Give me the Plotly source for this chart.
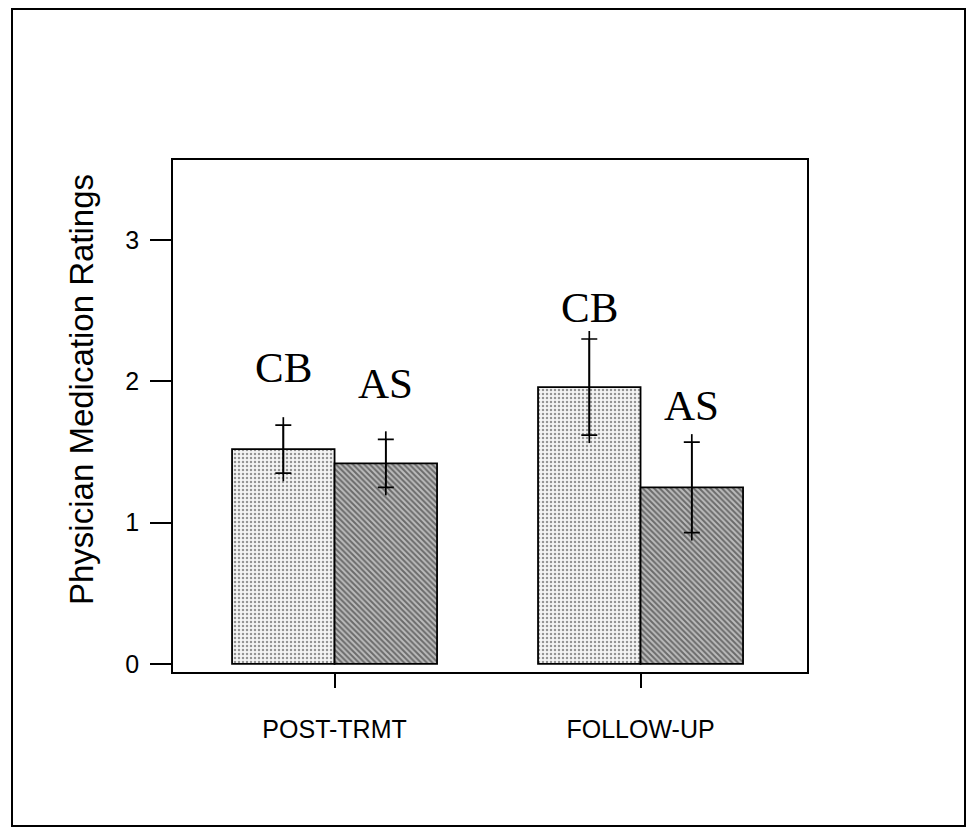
import plotly.graph_objects as go

# Physician medication ratings by phase and treatment group (mean +/- SE)
phases = ["POST-TRMT", "FOLLOW-UP"]
groups = ["CB", "AS"]
cb_mean = [1.52, 1.96]
cb_err = [0.17, 0.34]
as_mean = [1.42, 1.25]
as_err = [0.17, 0.32]
y_ticks = [0, 1, 2, 3]

# figure geometry (px)
W, H = 972, 835
ML, MR, MT, MB = 173, 165, 160, 163
Y_RANGE = [-0.057, 3.567]
X_RANGE = [-0.528, 1.544]
BARGAP = 0.33
px_per_unit = (H - MT - MB) / (Y_RANGE[1] - Y_RANGE[0])
arm_px = 8                      # how far the error line runs past each crossbar
ext = arm_px / px_per_unit

styles = {
    "CB": dict(shape=".", fgcolor="#333333", bgcolor="#f4f4f4", size=4, solidity=0.3),
    "AS": dict(shape="\\", fgcolor="#1a1a1a", bgcolor="#bcbcbc", size=4, solidity=0.5),
}
series = {"CB": (cb_mean, cb_err), "AS": (as_mean, as_err)}
# vertical gap (px) from the top crossbar up to each group label's centre
label_gap = {"CB": [58, 32], "AS": [56, 37]}

fig = go.Figure()
for g in groups:
    mean, err = series[g]
    # filled bar with the long vertical error stroke
    fig.add_trace(go.Bar(
        x=phases, y=mean, name=g, offsetgroup=g,
        marker=dict(color="white", line=dict(color="black", width=1.8),
                    pattern=styles[g]),
        error_y=dict(type="data", array=[e + ext for e in err], visible=True,
                     color="black", thickness=1.7, width=0),
        showlegend=False, hoverinfo="skip",
    ))
    # transparent twin carrying the crossbars at mean +/- err
    fig.add_trace(go.Bar(
        x=phases, y=mean, offsetgroup=g,
        marker=dict(color="rgba(0,0,0,0)", line=dict(width=0)),
        error_y=dict(type="data", array=err, visible=True,
                     color="black", thickness=1.7, width=8),
        showlegend=False, hoverinfo="skip",
    ))

half = (1 - BARGAP) / 4
for gi, g in enumerate(groups):
    mean, err = series[g]
    for i in range(len(phases)):
        fig.add_annotation(
            x=i + (-half if gi == 0 else half), y=mean[i] + err[i],
            xref="x", yref="y", text=g, showarrow=False,
            xanchor="center", yanchor="middle", yshift=label_gap[g][i],
            font=dict(family="Liberation Serif, Times New Roman, serif",
                      size=43, color="black"),
        )

# y-axis title
fig.add_annotation(
    x=(81 - ML) / (W - ML - MR), y=(H - MB - 390) / (H - MT - MB),
    xref="paper", yref="paper", text="Physician Medication Ratings",
    textangle=-90, showarrow=False, xanchor="center", yanchor="middle",
    font=dict(family="Liberation Sans, Arial, sans-serif", size=33, color="black"),
)

# outer border around the whole figure
pw, ph = W - ML - MR, H - MT - MB
fig.add_shape(type="rect", xref="paper", yref="paper",
              x0=(12 - ML) / pw, x1=(965 - ML) / pw,
              y0=(H - MB - 826) / ph, y1=(H - MB - 9) / ph,
              line=dict(color="black", width=2), fillcolor="rgba(0,0,0,0)")

axis_font = dict(family="Liberation Sans, Arial, sans-serif", color="black")
fig.update_layout(
    width=W, height=H,
    margin=dict(l=ML, r=MR, t=MT, b=MB),
    paper_bgcolor="white", plot_bgcolor="white",
    barmode="group", bargap=BARGAP, bargroupgap=0,
    xaxis=dict(
        type="category", categoryarray=phases, range=X_RANGE,
        showline=True, mirror=True, linecolor="black", linewidth=1.8,
        ticks="outside", ticklen=14, tickwidth=1.8, tickcolor="black",
        tickfont=dict(size=25, **axis_font), ticklabelstandoff=20,
        showgrid=False, zeroline=False,
    ),
    yaxis=dict(
        range=Y_RANGE, tickvals=y_ticks,
        showline=True, mirror=True, linecolor="black", linewidth=1.8,
        ticks="outside", ticklen=21, tickwidth=1.8, tickcolor="black",
        tickfont=dict(size=25, **axis_font), ticklabelstandoff=6,
        showgrid=False, zeroline=False,
    ),
)

fig.write_html("out.html")
